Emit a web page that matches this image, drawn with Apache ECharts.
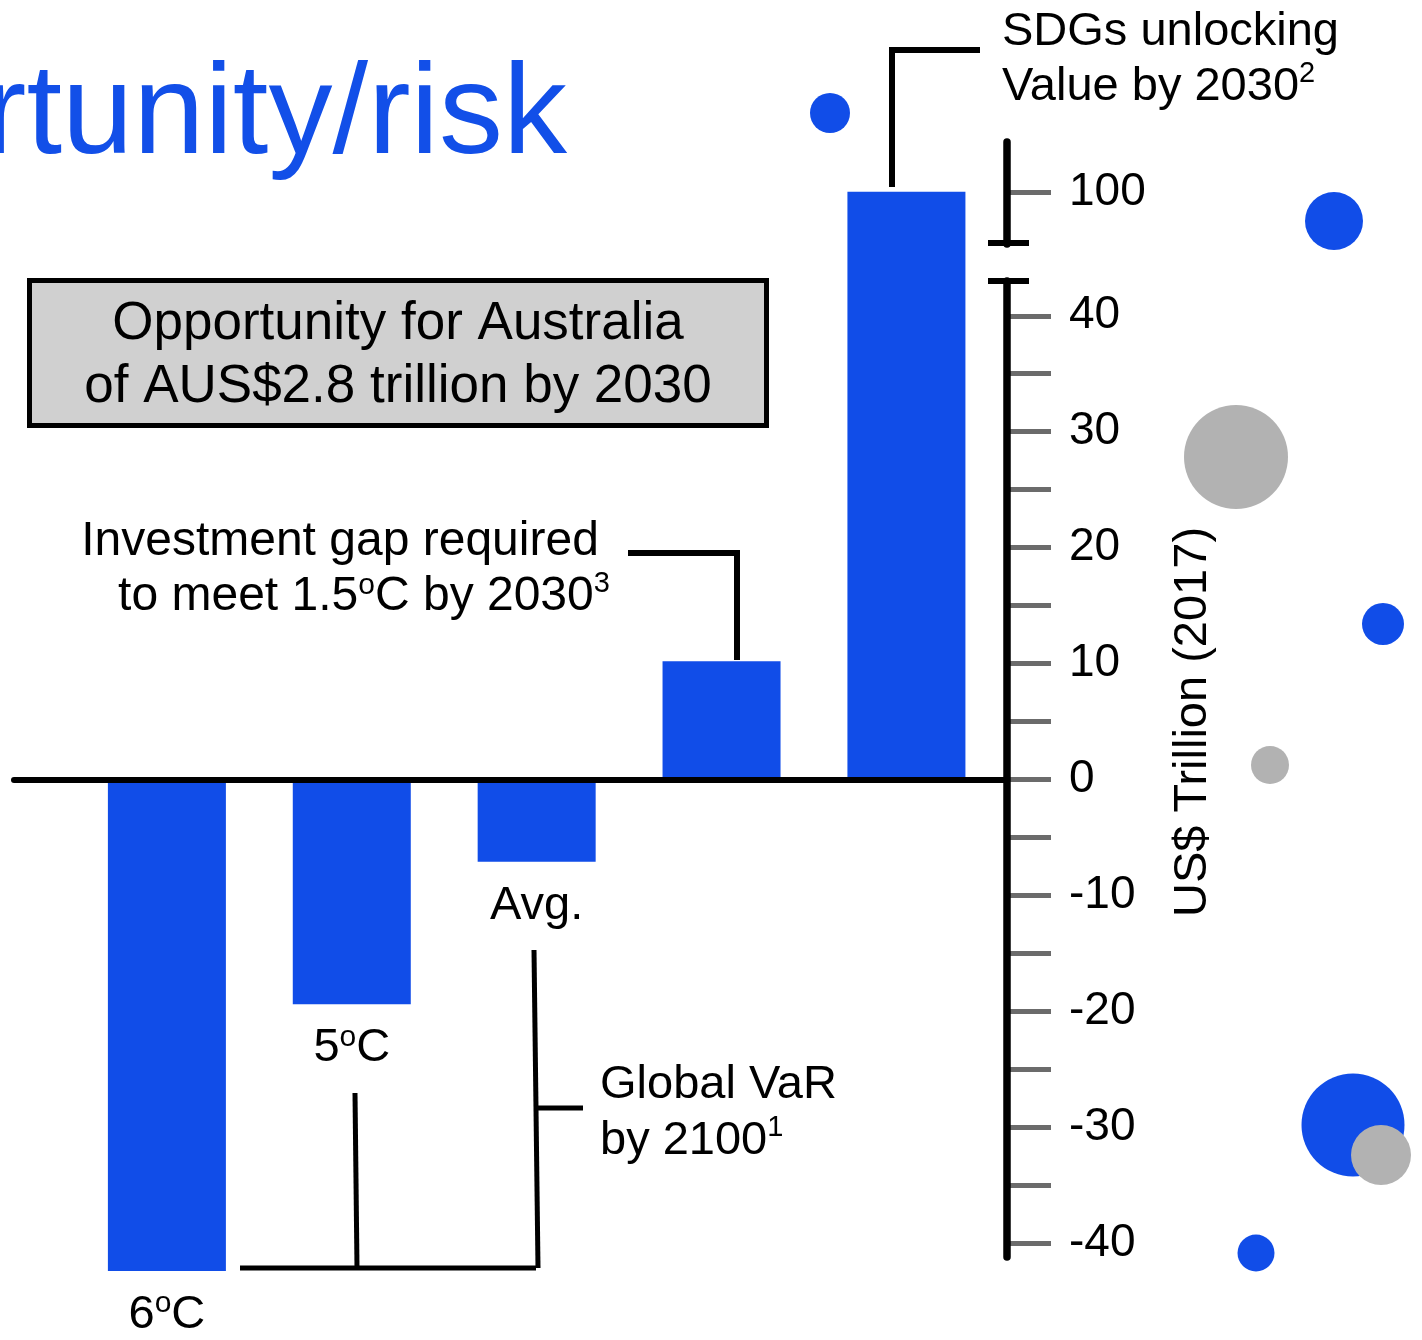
<!DOCTYPE html>
<html>
<head>
<meta charset="utf-8">
<script src="https://cdn.jsdelivr.net/npm/echarts@6/dist/echarts.min.js"></script>
<style>
html,body{margin:0;padding:0;background:#ffffff;}
#chart{width:1422px;height:1340px;}
</style>
</head>
<body>
<div id="chart"></div>
<script>
// ---------------- data ----------------
const categories = ['6°C', '5°C', 'Avg.', 'Investment gap required to meet 1.5°C by 2030', 'SDGs unlocking Value by 2030'];
const values = [-42.4, -19.4, -7.1, 10.2, 100];
const barLabels = ['6{o|o}C', '5{o|o}C', 'Avg.', '', ''];
const tickValues = [-40, -35, -30, -25, -20, -15, -10, -5, 0, 5, 10, 15, 20, 25, 30, 35, 40, 100];
const labelValues = [-40, -30, -20, -10, 0, 10, 20, 30, 40, 100];
const axisMin = -41.2;
const axisMax = 104.3;
const breakStart = 43.05;
const breakEnd = 95.55;
const breakGap = 3.19;
const segmentEnds = [43, 95.6];
const blueBubbles = [[830, 113, 40], [1334, 221, 58], [1383, 624, 42], [1353, 1125, 103], [1256, 1253, 37]];
const grayBubbles = [[1236, 457, 104], [1270, 765, 38], [1381, 1155, 60]];

// ---------------- style ----------------
const FONT = '"Liberation Sans", Arial, sans-serif';
const BLUE = '#114DE8';
const GRAY = '#B2B2B2';

const supO = { fontSize: 30, verticalAlign: 'middle', padding: [0, 0, 22, 0], fontFamily: FONT, color: '#000', fill: '#000' };
const supN = { fontSize: 29, verticalAlign: 'middle', padding: [0, 0, 26, 0], fontFamily: FONT, color: '#000', fill: '#000' };

function yBase(extra) {
  return Object.assign({
    type: 'value',
    gridIndex: 0,
    position: 'right',
    min: axisMin,
    max: axisMax,
    breaks: [{ start: breakStart, end: breakEnd, gap: breakGap }],
    breakArea: { show: false },
    splitLine: { show: false },
    axisLine: { show: false, onZero: false },
    axisTick: { show: false },
    axisLabel: { show: false }
  }, extra);
}

function txt(x, y, text, align, extra) {
  return {
    type: 'text',
    x: x, y: y,
    z: 50,
    style: Object.assign({
      text: text,
      fontSize: 47,
      fontFamily: FONT,
      fill: '#000',
      align: align, textAlign: align,
      verticalAlign: 'middle', textVerticalAlign: 'middle',
      lineHeight: 56,
      rich: { o: supO, n: supN }
    }, extra || {})
  };
}

function line(points, w) {
  return {
    type: 'polyline',
    z: 50,
    shape: { points: points },
    style: { stroke: '#000', lineWidth: w || 5, fill: null, lineJoin: 'miter' }
  };
}

const chart = echarts.init(document.getElementById('chart'), null, { renderer: 'canvas' });

const option = {
  backgroundColor: '#ffffff',
  animation: false,
  grid: [
    { left: 14, right: 415, top: 142, bottom: 83 },
    { left: 0, right: 0, top: 0, bottom: 0 }
  ],
  xAxis: [
    {
      type: 'value', gridIndex: 0,
      min: -0.827, max: 4.544,
      z: 4,
      axisLine: { show: true, onZero: true, lineStyle: { color: '#000', width: 6 } },
      axisTick: { show: false }, axisLabel: { show: false }, splitLine: { show: false }
    },
    { type: 'value', gridIndex: 1, min: 0, max: 1422, show: false }
  ],
  yAxis: [
    yBase({
      z: 3,
      axisTick: { show: true, customValues: tickValues, length: 44, lineStyle: { color: '#6B6B6B', width: 5 } },
      axisLabel: { show: true, customValues: labelValues, margin: 62, color: '#000', fontSize: 46, fontFamily: FONT }
    }),
    yBase({
      z: 6,
      axisLine: { show: true, onZero: false, lineStyle: { color: '#000', width: 7.5 } },
      axisTick: { show: true, inside: false, customValues: segmentEnds, length: 22, lineStyle: { color: '#000', width: 6 } }
    }),
    yBase({
      z: 6,
      axisTick: { show: true, inside: true, customValues: segmentEnds, length: 19, lineStyle: { color: '#000', width: 6 } }
    }),
    { type: 'value', gridIndex: 1, min: 0, max: 1340, inverse: true, show: false }
  ],
  series: [
    {
      type: 'bar',
      name: 'US$ Trillion (2017)',
      xAxisIndex: 0, yAxisIndex: 0,
      barWidth: 118,
      clip: false,
      z: 2,
      itemStyle: { color: BLUE },
      data: values.map((v, i) => [i, v]),
      label: {
        show: true,
        position: 'bottom',
        distance: 16,
        formatter: p => barLabels[p.dataIndex],
        color: '#000',
        fontSize: 47,
        fontFamily: FONT,
        lineHeight: 56,
        rich: { o: supO }
      }
    },
    {
      type: 'scatter', xAxisIndex: 1, yAxisIndex: 3,
      symbol: 'circle', symbolSize: d => d[2],
      itemStyle: { color: BLUE, opacity: 1 },
      data: blueBubbles, z: 1, silent: true
    },
    {
      type: 'scatter', xAxisIndex: 1, yAxisIndex: 3,
      symbol: 'circle', symbolSize: d => d[2],
      itemStyle: { color: GRAY, opacity: 1 },
      data: grayBubbles, z: 1, silent: true
    }
  ],
  graphic: { elements: [
    // title fragment
    txt(567, 118, 'rtunity/risk', 'right', { fontSize: 128, fill: '#124FE8', lineHeight: 140 }),
    // box
    { type: 'rect', z: 40, shape: { x: 29.5, y: 280.5, width: 737, height: 145 },
      style: { fill: '#D0D0D0', stroke: '#000', lineWidth: 5 } },
    txt(398, 324, 'Opportunity for Australia', 'center', { fontSize: 53, lineHeight: 60 }),
    txt(398, 387, 'of AUS$2.8 trillion by 2030', 'center', { fontSize: 53, lineHeight: 60 }),
    // investment gap annotation
    txt(340, 542, 'Investment gap required', 'center', { fontSize: 48 }),
    txt(364, 597, 'to meet 1.5{o|o}C by 2030{n|3}', 'center', { fontSize: 48 }),
    line([[628, 553], [737, 553], [737, 660]], 6),
    // SDGs annotation
    txt(1002, 32, 'SDGs unlocking', 'left'),
    txt(1002, 87, 'Value by 2030{n|2}', 'left'),
    line([[980, 50], [892, 50], [892, 187]], 6),
    // Global VaR annotation
    txt(600, 1085, 'Global VaR', 'left'),
    txt(600, 1141, 'by 2100{n|1}', 'left'),
    line([[355, 1093], [357, 1268]], 5),
    line([[240, 1268], [536, 1268]], 5),
    line([[534, 950], [538, 1268]], 5),
    line([[537, 1108], [583, 1108]], 5),
    // axis name
    { type: 'text', x: 1193, y: 722, rotation: Math.PI / 2, z: 50,
      style: { text: 'US$ Trillion (2017)', fontSize: 47, fontFamily: FONT, fill: '#000',
        align: 'center', textAlign: 'center', verticalAlign: 'middle', textVerticalAlign: 'middle' } }
  ] }
};

chart.setOption(option);
</script>
</body>
</html>
